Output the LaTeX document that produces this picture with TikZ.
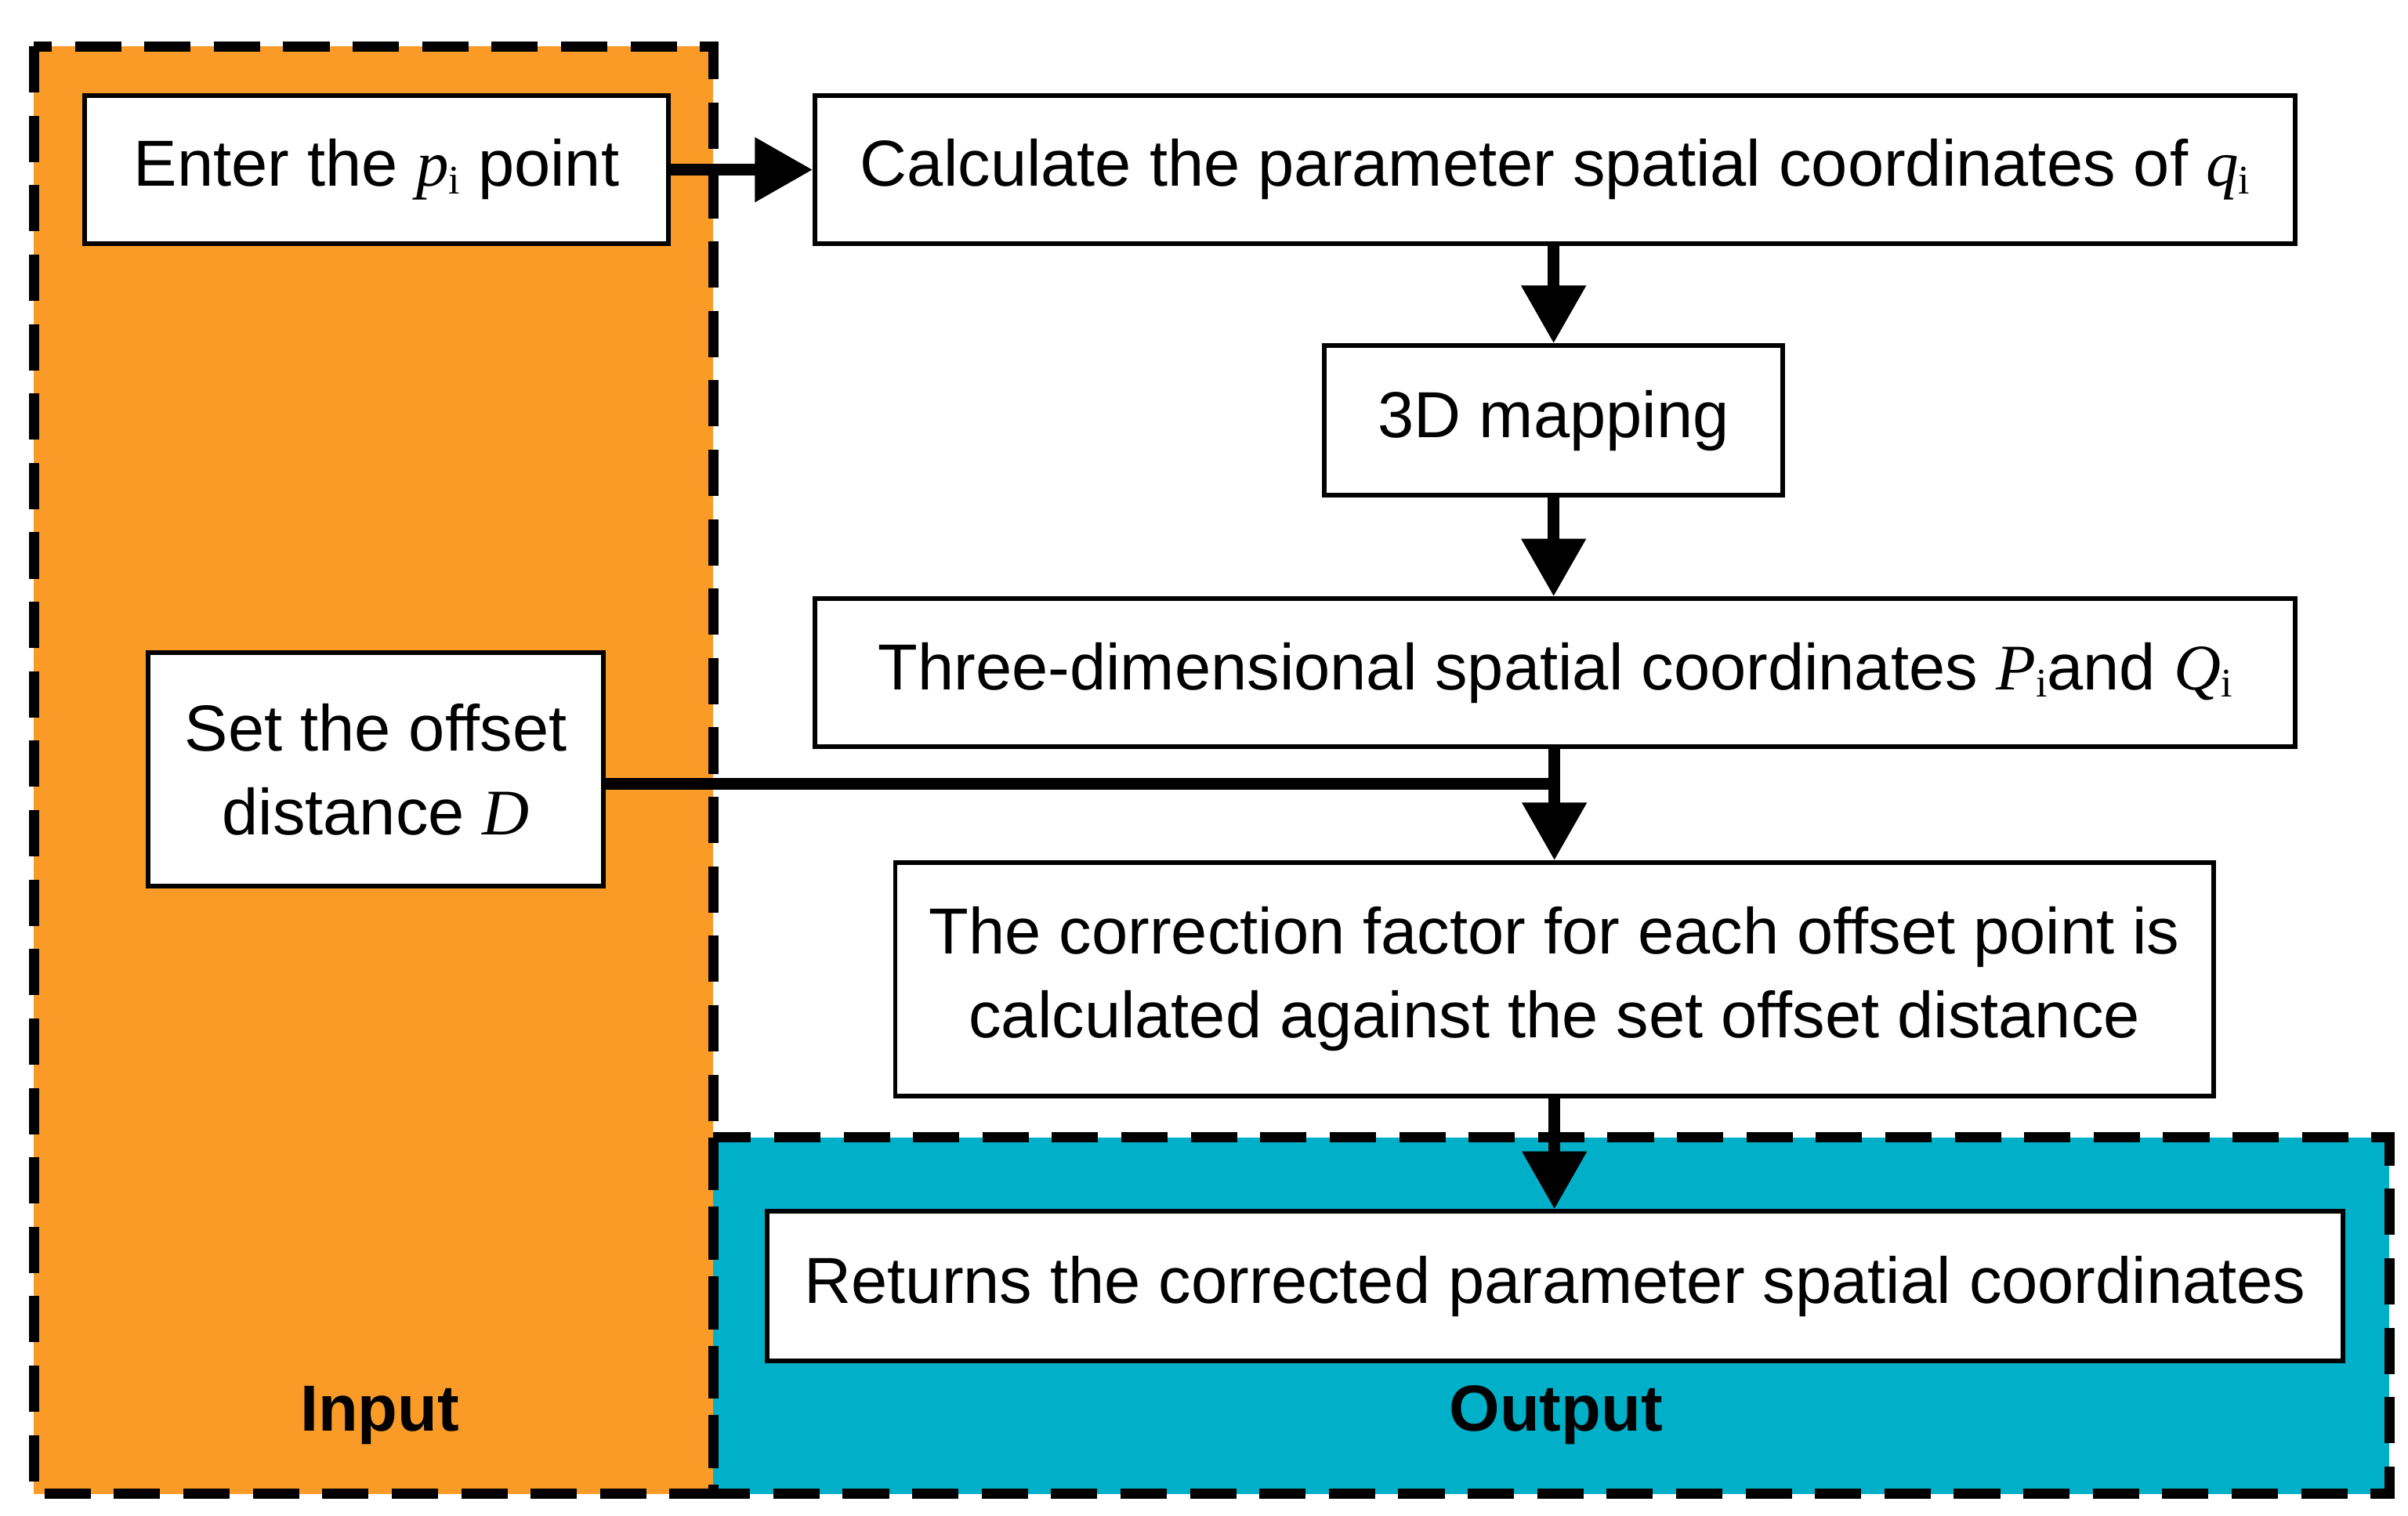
\documentclass[tikz,border=0pt]{standalone}
\usepackage{fontspec}
\setmainfont{Liberation Sans}
\newfontfamily\tms{Liberation Serif}
\usetikzlibrary{arrows.meta}
\definecolor{org}{RGB}{250,155,40}
\definecolor{blu}{RGB}{0,175,200}
\newcommand{\mv}[2]{{\tms\textit{#1}\raisebox{-0.25ex}{\fontsize{15}{15}\selectfont #2}}}
\begin{document}
\begin{tikzpicture}[x=0.02cm,y=-0.02cm,
  box/.style={draw,line width=1.7pt,fill=white,inner sep=0pt,align=center,font=\fontsize{24}{31}\selectfont},
  region/.style={draw,line width=3.8pt,dash pattern=on 0.6cm off 0.3cm},
  arr/.style={line width=4.5pt,-{Triangle[length=0.75cm,width=0.8cm]}},
  lab/.style={font=\fontsize{24}{28}\selectfont\bfseries}]
\useasboundingbox (0,0) rectangle (1560,982);
\fill[org] (22,30) rectangle (462,968);
\fill[blu] (462,737) rectangle (1548,968);
\draw[region] (22,30) rectangle (462,968);
\draw[region] (462,737) rectangle (1548,968);
\node[box,minimum width=378*0.02cm,minimum height=96*0.02cm] (b1) at (244,110) {Enter the \mv{p}{i} point};
\node[box,minimum width=959*0.02cm,minimum height=96*0.02cm] (b2) at (1007.5,110) {Calculate the parameter spatial coordinates of \mv{q}{i}};
\node[box,minimum width=297*0.02cm,minimum height=97*0.02cm] (b3) at (1006.5,272.5) {3D mapping};
\node[box,minimum width=959*0.02cm,minimum height=96*0.02cm] (b4) at (1007.5,436) {Three-dimensional spatial coordinates \mv{P}{i}and \mv{Q}{i}};
\node[box,minimum width=295*0.02cm,minimum height=151*0.02cm] (b5) at (243.5,498.5) {Set the offset\\distance {\tms\textit{D}}};
\node[box,minimum width=854*0.02cm,minimum height=151*0.02cm] (b6) at (1007,634.5) {The correction factor for each offset point is\\calculated against the set offset distance};
\node[box,minimum width=1021*0.02cm,minimum height=97*0.02cm] (b7) at (1007.5,833.5) {Returns the corrected parameter spatial coordinates};
\node[lab] (in) at (246,917) {Input};
\node[lab] (out) at (1008,917) {Output};
\coordinate (j) at (1007,508);
\draw[arr] (b1.east) -- (b2.west);
\draw[arr] (b2.south -| b3) -- (b3.north);
\draw[arr] (b3.south) -- (b3.south |- b4.north);
\draw[arr] (b4.south -| j) -- (b6.north -| j);
\draw[line width=4.5pt] (b5.east |- j) -- (j);
\draw[arr] (b6.south -| j) -- (b7.north -| j);
\end{tikzpicture}
\end{document}
